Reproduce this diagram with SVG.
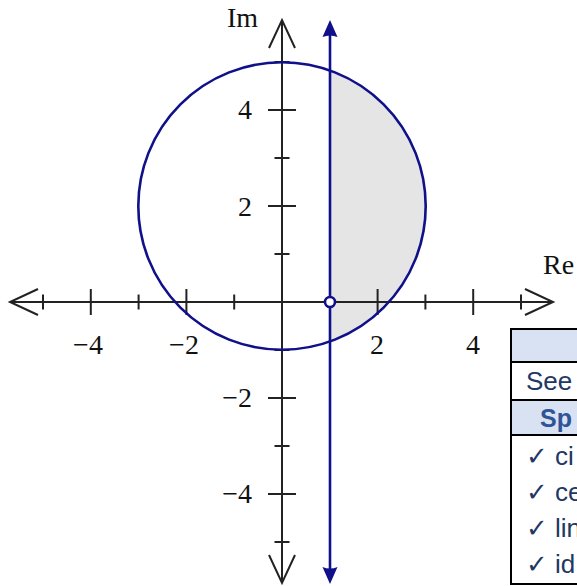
<svg xmlns="http://www.w3.org/2000/svg" width="577" height="586" viewBox="0 0 577 586">
  <style>
    .ax { stroke: #222; stroke-width: 2; fill: none; }
    .tk { stroke: #222; stroke-width: 2; }
    .num { font-family: "Liberation Serif", "DejaVu Serif", serif; font-size: 28px; fill: #111; }
    .blue { stroke: #10108a; stroke-width: 2.6; fill: none; }
    .cell { stroke: #000; stroke-width: 2; }
    .tt { font-family: "Liberation Sans", Arial, "DejaVu Sans", sans-serif; font-size: 26px; fill: #1f3864; }
    .th { font-family: "Liberation Sans", Arial, sans-serif; font-size: 25px; font-weight: bold; fill: #2f5597; }
  </style>

  <g id="region">
    <path d="M330,70.6 A143.7,143.7 0 0 1 330,341.4 Z" fill="#e5e5e5"/>
  </g>

  <g id="axes">
    <line class="ax" x1="10" y1="302" x2="553" y2="302"/>
    <line class="ax" x1="282" y1="20" x2="282" y2="583"/>
    <path class="ax" d="M38,289 L10,302 L38,315"/>
    <path class="ax" d="M525,289 L553,302 L525,315"/>
    <path class="ax" d="M269,48 L282,20 L295,48"/>
    <path class="ax" d="M269,555 L282,583 L295,555"/>
    <!-- x ticks -->
    <line class="tk" x1="43" y1="294.5" x2="43" y2="309.5"/>
    <line class="tk" x1="90.8" y1="289" x2="90.8" y2="315"/>
    <line class="tk" x1="138.6" y1="294.5" x2="138.6" y2="309.5"/>
    <line class="tk" x1="186.4" y1="289" x2="186.4" y2="315"/>
    <line class="tk" x1="234.2" y1="294.5" x2="234.2" y2="309.5"/>
    <line class="tk" x1="377.6" y1="289" x2="377.6" y2="315"/>
    <line class="tk" x1="425.4" y1="294.5" x2="425.4" y2="309.5"/>
    <line class="tk" x1="473.2" y1="289" x2="473.2" y2="315"/>
    <line class="tk" x1="521" y1="294.5" x2="521" y2="309.5"/>
    <!-- y ticks -->
    <line class="tk" x1="274.5" y1="62" x2="289.5" y2="62"/>
    <line class="tk" x1="268" y1="110" x2="296" y2="110"/>
    <line class="tk" x1="274.5" y1="158" x2="289.5" y2="158"/>
    <line class="tk" x1="268" y1="206" x2="296" y2="206"/>
    <line class="tk" x1="274.5" y1="254" x2="289.5" y2="254"/>
    <line class="tk" x1="274.5" y1="350" x2="289.5" y2="350"/>
    <line class="tk" x1="268" y1="398" x2="296" y2="398"/>
    <line class="tk" x1="274.5" y1="446" x2="289.5" y2="446"/>
    <line class="tk" x1="268" y1="494" x2="296" y2="494"/>
    <line class="tk" x1="274.5" y1="542" x2="289.5" y2="542"/>
    <!-- labels -->
    <text class="num" x="227" y="27">Im</text>
    <text class="num" x="543" y="274">Re</text>
    <text class="num" x="88" y="354" text-anchor="middle">−4</text>
    <text class="num" x="184" y="354" text-anchor="middle">−2</text>
    <text class="num" x="377" y="354" text-anchor="middle">2</text>
    <text class="num" x="473" y="354" text-anchor="middle">4</text>
    <text class="num" x="252" y="119" text-anchor="end">4</text>
    <text class="num" x="252" y="216" text-anchor="end">2</text>
    <text class="num" x="252" y="407" text-anchor="end">−2</text>
    <text class="num" x="252" y="503" text-anchor="end">−4</text>
  </g>

  <g id="circle">
    <circle class="blue" cx="282" cy="206" r="143.7"/>
  </g>

  <g id="line">
    <line class="blue" x1="330" y1="32" x2="330" y2="572"/>
    <path d="M330,20 L337.5,37 Q330,34 322.5,37 Z" fill="#10108a"/>
    <path d="M330,584 L337.5,567 Q330,570 322.5,567 Z" fill="#10108a"/>
  </g>

  <g id="point">
    <circle cx="330" cy="302" r="5" fill="#fff" stroke="#10108a" stroke-width="2.6"/>
  </g>

  <g id="table">
    <rect x="511" y="329" width="80" height="33" fill="#d9e2f3" class="cell"/>
    <rect x="511" y="362" width="80" height="38" fill="#fff" class="cell"/>
    <rect x="511" y="400" width="80" height="35" fill="#d9e2f3" class="cell"/>
    <rect x="511" y="435" width="80" height="149" fill="#fff" class="cell"/>
    <text class="tt" x="526" y="390">See</text>
    <text class="th" x="540" y="427">Sp</text>
    <text class="tt" x="526" y="465">✓ ci</text>
    <text class="tt" x="526" y="501">✓ ce</text>
    <text class="tt" x="526" y="537">✓ lin</text>
    <text class="tt" x="526" y="573">✓ id</text>
  </g>
</svg>
